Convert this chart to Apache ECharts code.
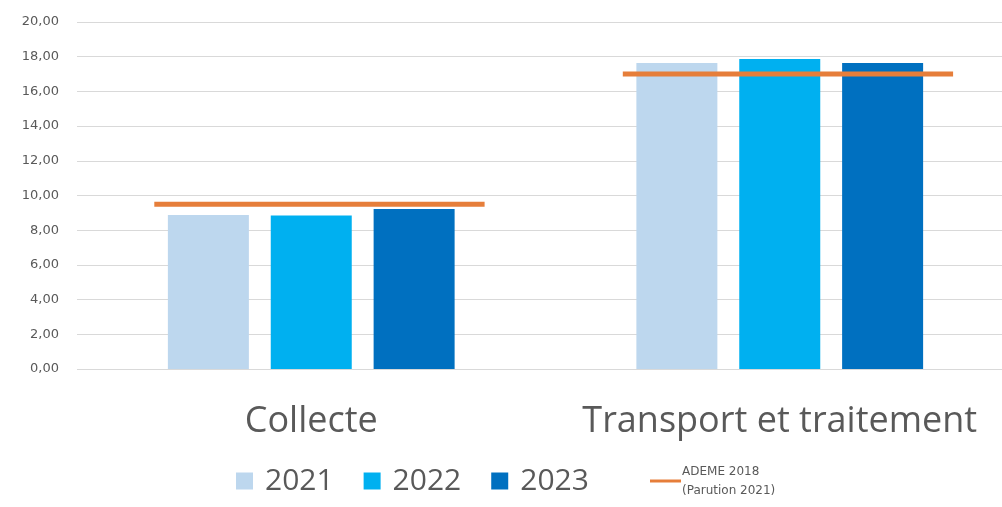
<!DOCTYPE html>
<html>
<head>
<meta charset="utf-8">
<script src="https://cdn.jsdelivr.net/npm/echarts@6/dist/echarts.min.js"></script>
<style>html,body{margin:0;padding:0;background:#fff}#c{width:1002px;height:507px}</style>
</head>
<body>
<div id="c"></div>
<script>
const categories = ['Collecte', 'Transport et traitement'];
const years = ['2021', '2022', '2023'];
const values2021 = [8.88, 17.64];
const values2022 = [8.85, 17.87];
const values2023 = [9.22, 17.64];
const ademeName = 'ADEME 2018\n(Parution 2021)';
const ademeValues = [9.5, 17.0];
const yTicks = [0, 2, 4, 6, 8, 10, 12, 14, 16, 18, 20];

const colors = ['#BDD7EE', '#00B0F0', '#0070C0'];
const orange = '#E67E3A';
const font = '"Open Sans", sans-serif';
const smallFont = '"DejaVu Sans", sans-serif';

const chart = echarts.init(document.getElementById('c'), null, {renderer: 'canvas'});
const barSeries = [values2021, values2022, values2023].map((vals, i) => ({
  name: years[i],
  type: 'bar',
  data: vals,
  barWidth: 81,
  barGap: '27%',
  itemStyle: {color: colors[i]},
  z: 2
}));

chart.setOption({
  animation: false,
  grid: {left: 77, width: 937, top: 22, bottom: 138, containLabel: false, outerBoundsMode: 'none'},
  xAxis: {
    type: 'category',
    data: categories,
    axisLine: {show: false},
    axisTick: {show: false},
    axisLabel: {fontSize: 36, color: '#595959', fontFamily: font, margin: 35, interval: 0, hideOverlap: false}
  },
  yAxis: {
    type: 'value',
    min: yTicks[0],
    max: yTicks[yTicks.length - 1],
    interval: 2,
    axisLine: {show: false},
    axisTick: {show: false},
    splitLine: {lineStyle: {color: '#D9D9D9', width: 1}},
    axisLabel: {
      fontSize: 13, color: '#595959', fontFamily: smallFont, margin: 18,
      formatter: v => v.toFixed(2).replace('.', ',')
    }
  },
  legend: [
    {
      data: years,
      left: 231, top: 461,
      itemWidth: 17, itemHeight: 17, itemGap: 30,
      icon: 'rect',
      textStyle: {fontSize: 30, color: '#595959', fontFamily: font, padding: [0, 0, 0, 7]}
    },
    {
      data: [{name: ademeName, icon: 'rect'}],
      left: 645, top: 457,
      itemWidth: 31, itemHeight: 3,
      itemGap: 0,
      textStyle: {fontSize: 12, color: '#595959', fontFamily: smallFont, lineHeight: 19, padding: [0, 0, 0, -4]}
    }
  ],
  series: barSeries.concat([{
    name: ademeName,
    type: 'custom',
    data: ademeValues.map((v, i) => [i, v]),
    encode: {x: 0, y: 1},
    itemStyle: {color: orange},
    z: 5,
    renderItem: function (params, api) {
      const p = api.coord([api.value(0), api.value(1)]);
      const bw = api.size([1, 0])[0];
      return {
        type: 'line',
        shape: {x1: p[0] - bw * 0.335, y1: p[1], x2: p[0] + bw * 0.37, y2: p[1]},
        style: {stroke: orange, lineWidth: 5}
      };
    }
  }])
});
</script>
</body>
</html>
